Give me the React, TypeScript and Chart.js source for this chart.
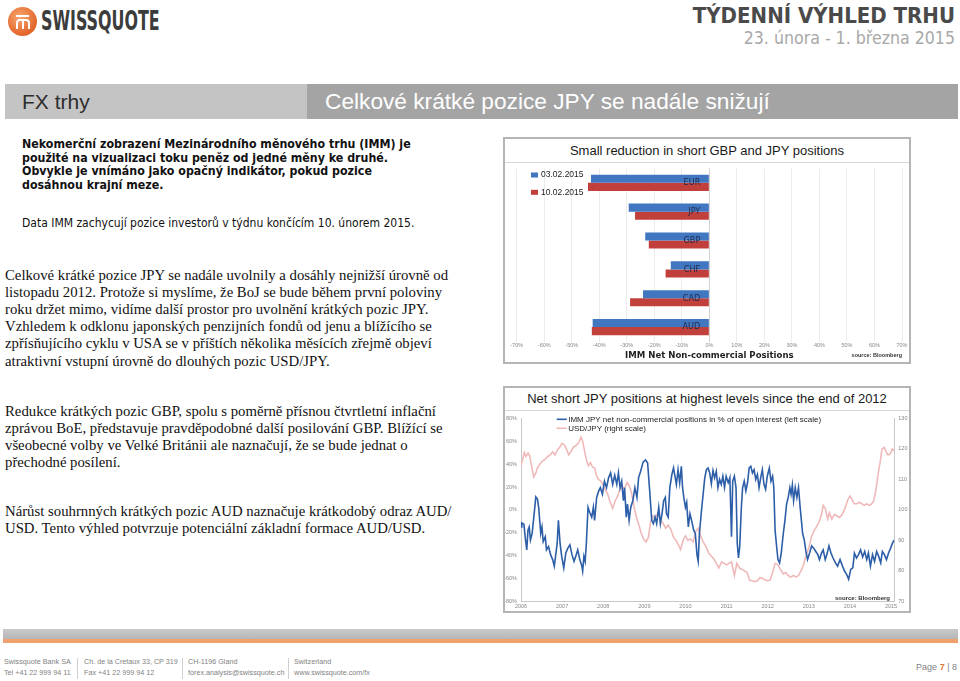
import React, { useEffect, useRef } from "react";
import { Chart, registerables } from "chart.js";

Chart.register(...registerables);

// ---------------- Bar chart data ----------------
const currencies = ["EUR", "JPY", "GBP", "CHF", "CAD", "AUD"];
const seriesDates = ["03.02.2015", "10.02.2015"];
const positionsFeb03 = [-43.0, -29.3, -23.3, -14.0, -24.1, -42.4];
const positionsFeb10 = [-44.1, -27.0, -22.0, -15.9, -28.8, -42.7];
const positionTicks = [-70, -60, -50, -40, -30, -20, -10, 0, 10, 20, 30, 40, 50, 60, 70];

// ---------------- Line chart data ----------------
const yearTicks = [2006, 2007, 2008, 2009, 2010, 2011, 2012, 2013, 2014, 2015];
const leftTicks = [-80, -60, -40, -20, 0, 20, 40, 60, 80];
const rightTicks = [70, 80, 90, 100, 110, 120, 130];
const lineSeriesLabels = [
  "IMM JPY net non-commercial positions in % of open interest (left scale)",
  "USD/JPY (right scale)",
];

const jpyDates = [
  2006.00, 2006.02, 2006.07, 2006.11, 2006.14, 2006.17, 2006.20, 2006.23, 2006.27, 2006.32,
  2006.36, 2006.40, 2006.43, 2006.48, 2006.51, 2006.54, 2006.59, 2006.62, 2006.67, 2006.72,
  2006.77, 2006.81, 2006.85, 2006.88, 2006.91, 2006.95, 2006.99, 2007.04, 2007.09, 2007.14,
  2007.19, 2007.24, 2007.29, 2007.33, 2007.38, 2007.43, 2007.48, 2007.50, 2007.53, 2007.56,
  2007.59, 2007.63, 2007.67, 2007.72, 2007.76, 2007.79, 2007.84, 2007.89, 2007.93, 2007.98,
  2008.03, 2008.08, 2008.13, 2008.18, 2008.23, 2008.28, 2008.33, 2008.37, 2008.41, 2008.45,
  2008.49, 2008.52, 2008.56, 2008.59, 2008.63, 2008.67, 2008.72, 2008.77, 2008.82, 2008.86,
  2008.91, 2008.97, 2009.03, 2009.08, 2009.13, 2009.18, 2009.22, 2009.26, 2009.30, 2009.35,
  2009.39, 2009.43, 2009.47, 2009.51, 2009.54, 2009.58, 2009.62, 2009.67, 2009.71, 2009.74,
  2009.78, 2009.82, 2009.86, 2009.90, 2009.93, 2009.96, 2010.00, 2010.03, 2010.07, 2010.11,
  2010.15, 2010.20, 2010.24, 2010.28, 2010.31, 2010.34, 2010.39, 2010.43, 2010.47, 2010.51,
  2010.55, 2010.59, 2010.63, 2010.67, 2010.71, 2010.75, 2010.79, 2010.83, 2010.87, 2010.91,
  2010.95, 2010.99, 2011.04, 2011.08, 2011.12, 2011.15, 2011.19, 2011.23, 2011.26, 2011.29,
  2011.32, 2011.36, 2011.39, 2011.43, 2011.47, 2011.51, 2011.55, 2011.59, 2011.63, 2011.67,
  2011.71, 2011.75, 2011.79, 2011.83, 2011.87, 2011.91, 2011.95, 2011.99, 2012.04, 2012.08,
  2012.12, 2012.15, 2012.18, 2012.21, 2012.25, 2012.29, 2012.33, 2012.38, 2012.42, 2012.46,
  2012.50, 2012.54, 2012.57, 2012.60, 2012.63, 2012.67, 2012.71, 2012.75, 2012.79, 2012.82,
  2012.85, 2012.89, 2012.93, 2012.97, 2013.02, 2013.07, 2013.12, 2013.17, 2013.22, 2013.26,
  2013.31, 2013.35, 2013.40, 2013.45, 2013.49, 2013.54, 2013.59, 2013.65, 2013.70, 2013.76,
  2013.82, 2013.87, 2013.92, 2013.97, 2014.02, 2014.07, 2014.11, 2014.16, 2014.21, 2014.26,
  2014.31, 2014.36, 2014.41, 2014.45, 2014.50, 2014.55, 2014.60, 2014.65, 2014.70, 2014.75,
  2014.79, 2014.84, 2014.89, 2014.94, 2014.99, 2015.04, 2015.08,
];

const jpyNetPositions = [
  -14.9, -11.4, -12.6, -26.3, -34.9, -17.7, -14.9, -26.3, -20.6, -3.4,
  11.4, 9.4, 2.3, -20.6, -14.9, -27.7, -23.4, -34.9, -32.0, -39.1,
  -43.4, -49.1, -37.7, -29.1, -9.1, -29.1, -40.6, -50.6, -37.7, -33.4,
  -30.6, -39.1, -44.9, -40.6, -34.9, -43.4, -49.1, -53.4, -40.6, -44.9,
  -29.1, 2.3, -2.0, -6.3, 2.3, -9.1, 10.9, 16.6, 19.4, 13.7,
  25.1, 19.4, 28.0, 32.3, 22.3, 30.3, 22.3, 32.3, 19.4, 25.1,
  8.0, 19.4, -6.3, 5.1, -9.1, 2.3, 8.0, 19.4, 10.9, 28.0,
  33.7, 41.7, 43.7, 40.9, 16.6, -9.1, -12.0, -6.3, -12.0, 2.3,
  -12.0, -3.4, 8.0, 10.9, -3.4, -6.3, 19.4, 30.9, 36.6, 30.3,
  22.3, 35.1, 23.7, 38.0, 19.4, 10.9, 2.3, 6.6, -14.9, -3.4,
  -9.1, -17.7, -20.6, -39.1, -44.9, -20.6, -0.6, 13.7, 28.0, 35.1,
  36.6, 32.3, 22.9, 34.3, 28.0, 33.7, 19.4, 26.6, 22.3, 29.4,
  19.4, 29.4, 23.7, 28.0, -23.4, 25.1, 29.4, 19.4, -29.1, -42.0,
  -32.0, 2.3, 19.4, 25.1, 16.6, 23.7, 36.6, 38.0, 32.3, 35.1,
  26.6, 30.9, 19.4, 28.0, 35.1, 22.3, 18.0, 29.4, 36.6, 25.1,
  29.4, 19.4, -17.7, -29.1, -43.4, -46.3, -37.7, -20.6, -9.1, 5.1,
  10.9, 19.4, 13.7, 21.7, 8.0, 19.4, 10.9, 19.4, 2.3, -9.1,
  -20.6, -26.3, -36.3, -43.4, -37.7, -31.4, -33.4, -36.3, -39.1, -43.4,
  -37.7, -34.9, -43.4, -37.7, -31.4, -37.7, -42.0, -46.3, -49.1, -43.4,
  -49.1, -53.4, -56.3, -60.6, -52.0, -50.6, -37.7, -42.0, -39.1, -34.9,
  -41.1, -36.3, -43.4, -37.7, -49.1, -39.1, -44.9, -36.3, -40.6, -46.3,
  -36.3, -39.1, -43.4, -37.7, -33.4, -28.6, -26.3,
];

const usdJpyDates = [
  2006.00, 2006.04, 2006.08, 2006.12, 2006.17, 2006.21, 2006.27, 2006.31, 2006.36, 2006.40,
  2006.46, 2006.52, 2006.58, 2006.65, 2006.71, 2006.77, 2006.83, 2006.88, 2006.94, 2007.00,
  2007.06, 2007.12, 2007.16, 2007.21, 2007.27, 2007.33, 2007.40, 2007.46, 2007.50, 2007.55,
  2007.60, 2007.64, 2007.69, 2007.74, 2007.79, 2007.83, 2007.88, 2007.94, 2008.00, 2008.05,
  2008.10, 2008.17, 2008.23, 2008.29, 2008.35, 2008.40, 2008.46, 2008.52, 2008.58, 2008.63,
  2008.69, 2008.75, 2008.81, 2008.87, 2008.92, 2008.98, 2009.04, 2009.10, 2009.15, 2009.21,
  2009.27, 2009.33, 2009.40, 2009.46, 2009.52, 2009.58, 2009.65, 2009.71, 2009.77, 2009.83,
  2009.88, 2009.94, 2010.00, 2010.06, 2010.12, 2010.19, 2010.25, 2010.31, 2010.37, 2010.43,
  2010.50, 2010.56, 2010.62, 2010.69, 2010.75, 2010.81, 2010.88, 2010.94, 2011.00, 2011.06,
  2011.12, 2011.19, 2011.25, 2011.31, 2011.38, 2011.44, 2011.50, 2011.56, 2011.62, 2011.69,
  2011.75, 2011.81, 2011.88, 2011.94, 2012.00, 2012.06, 2012.12, 2012.18, 2012.25, 2012.31,
  2012.38, 2012.44, 2012.50, 2012.56, 2012.62, 2012.69, 2012.75, 2012.81, 2012.87, 2012.92,
  2013.00, 2013.06, 2013.12, 2013.19, 2013.25, 2013.31, 2013.35, 2013.40, 2013.46, 2013.50,
  2013.56, 2013.62, 2013.69, 2013.75, 2013.81, 2013.88, 2013.94, 2014.00, 2014.05, 2014.10,
  2014.17, 2014.23, 2014.29, 2014.35, 2014.41, 2014.47, 2014.53, 2014.58, 2014.62, 2014.66,
  2014.70, 2014.74, 2014.78, 2014.83, 2014.88, 2014.93, 2014.98, 2015.03, 2015.08,
];

const usdJpyRates = [
  114.5, 116.5, 118.8, 117.5, 118.6, 117.7, 113.5, 110.8, 112.0, 113.8,
  115.0, 116.0, 116.5, 117.5, 118.0, 119.0, 118.0, 119.5, 120.5, 121.8,
  121.2, 119.5, 118.0, 119.0, 120.5, 121.0, 122.0, 123.8, 122.5, 119.0,
  116.0, 114.5, 115.5, 114.0, 113.8, 111.5, 110.0, 109.5, 108.0, 106.5,
  105.5, 102.5, 100.5, 103.0, 104.5, 106.5, 107.5, 107.0, 109.0, 108.0,
  105.5, 101.0, 97.5, 95.0, 92.5, 90.5, 89.5, 91.0, 96.0, 98.0,
  97.5, 99.0, 96.5, 95.5, 94.0, 95.0, 93.5, 91.0, 90.0, 88.5,
  87.0, 90.0, 91.5, 90.0, 90.5, 89.5, 93.0, 94.0, 91.5, 89.5,
  88.0, 86.0, 85.0, 84.0, 82.5, 81.0, 83.0, 82.5, 82.0, 82.5,
  83.0, 78.5, 82.5, 81.0, 80.5, 80.0, 79.5, 77.0, 76.8, 76.5,
  76.8, 77.8, 77.5, 77.0, 76.8, 77.0, 79.5, 82.5, 82.0, 80.5,
  79.0, 79.5, 78.5, 78.0, 78.5, 78.0, 78.5, 80.0, 82.0, 84.5,
  87.5, 91.0, 93.0, 94.5, 96.0, 98.5, 101.5, 100.5, 97.0, 99.0,
  97.0, 98.5, 98.0, 97.5, 98.5, 100.5, 103.0, 104.5, 103.5, 102.0,
  102.0, 102.5, 102.0, 101.5, 102.0, 101.5, 102.0, 103.0, 105.5, 109.0,
  113.0, 116.0, 120.0, 120.5, 119.0, 118.0, 118.3, 120.0, 119.3,
];

// ---------------- Plugin: legend + note drawn inside the canvas ----------------
const boxLegendPlugin = {
  id: "boxLegend",
  afterDraw(chart: any, _args: any, opts: any) {
    if (!opts || !opts.enabled) return;
    const ctx = chart.ctx;
    ctx.save();
    ctx.textBaseline = "middle";
    ctx.textAlign = "left";
    ctx.font = opts.font;
    chart.data.datasets.forEach((ds: any, i: number) => {
      const x = opts.x;
      const y = opts.y + i * opts.gap;
      if (opts.marker === "line") {
        ctx.strokeStyle = ds.borderColor;
        ctx.lineWidth = 1.6;
        ctx.beginPath();
        ctx.moveTo(x, y);
        ctx.lineTo(x + opts.markerW, y);
        ctx.stroke();
      } else {
        ctx.fillStyle = ds.backgroundColor;
        ctx.fillRect(x, y - opts.markerH / 2, opts.markerW, opts.markerH);
      }
      ctx.fillStyle = opts.color;
      ctx.fillText(ds.label, x + opts.markerW + opts.textGap, y);
    });
    if (opts.note) {
      ctx.font = opts.noteFont;
      ctx.textAlign = "right";
      ctx.fillStyle = opts.noteColor;
      ctx.fillText(opts.note, opts.noteX, opts.noteY);
    }
    ctx.restore();
  },
};

const BLUE_BAR = "#4177c0";
const RED_BAR = "#c2403b";
const BLUE_LINE = "#2d5ea8";
const PINK_LINE = "#f0b9b9";

function BarChart() {
  const ref = useRef<HTMLCanvasElement>(null);
  useEffect(() => {
    const chart = new Chart(ref.current as HTMLCanvasElement, {
      type: "bar",
      data: {
        labels: currencies,
        datasets: [
          { label: seriesDates[0], data: positionsFeb03, backgroundColor: BLUE_BAR },
          { label: seriesDates[1], data: positionsFeb10, backgroundColor: RED_BAR },
        ],
      },
      options: {
        indexAxis: "y",
        animation: false,
        responsive: false,
        devicePixelRatio: 1,
        categoryPercentage: 0.56,
        barPercentage: 1,
        layout: { padding: { left: 11.7, right: 7, top: 4.5, bottom: 0 } },
        plugins: {
          legend: { display: false },
          tooltip: { enabled: false },
          boxLegend: {
            enabled: true,
            marker: "box",
            x: 26,
            y: 12,
            gap: 17.3,
            markerW: 7,
            markerH: 5,
            textGap: 3,
            font: "8.5px 'Liberation Sans', Arial, sans-serif",
            color: "#222",
            note: "source: Bloomberg",
            noteFont: "bold 5.5px 'Liberation Sans', Arial, sans-serif",
            noteColor: "#333",
            noteX: 397,
            noteY: 192,
          },
        } as any,
        scales: {
          x: {
            min: -70,
            max: 70,
            afterBuildTicks: (scale: any) => {
              scale.ticks = positionTicks.map((v) => ({ value: v }));
            },
            afterFit: (scale: any) => {
              scale.height = 20.5;
            },
            ticks: {
              autoSkip: false,
              maxRotation: 0,
              padding: 1,
              font: { size: 5.5, family: "'Liberation Sans', Arial, sans-serif" },
              color: "#888",
              callback: (v: any) => v + "%",
            },
            grid: {
              color: (c: any) => (c.tick && c.tick.value === 0 ? "#d2d2d2" : "#ececec"),
              drawTicks: false,
            },
            border: { display: false },
            title: {
              display: true,
              text: "IMM Net Non-commercial Positions",
              color: "#1e1e1e",
              font: { size: 9.5, weight: "bold", family: "'DejaVu Sans Condensed', 'Liberation Sans', sans-serif" },
              padding: { top: 0, bottom: 1 },
            },
          },
          y: {
            position: { x: -3.3 } as any,
            afterFit: (scale: any) => {
              scale.width = 0;
            },
            grid: { display: false },
            border: { display: false },
            ticks: {
              z: 1,
              padding: 0,
              color: "#1f2a4a",
              font: { size: 9, family: "'DejaVu Sans Condensed', 'Liberation Sans', sans-serif" },
            },
          },
        },
      } as any,
      plugins: [boxLegendPlugin as any],
    });
    return () => chart.destroy();
  }, []);
  return <canvas ref={ref} width={404} height={199} style={{ display: "block", width: 404, height: 199 }} />;
}

function LineChart() {
  const ref = useRef<HTMLCanvasElement>(null);
  useEffect(() => {
    const tickFont = { size: 5.5, family: "'Liberation Sans', Arial, sans-serif" };
    const chart = new Chart(ref.current as HTMLCanvasElement, {
      type: "line",
      data: {
        datasets: [
          {
            label: lineSeriesLabels[0],
            data: jpyDates.map((d, i) => ({ x: d, y: jpyNetPositions[i] })),
            borderColor: BLUE_LINE,
            borderWidth: 1.6,
            pointRadius: 0,
            tension: 0,
            yAxisID: "y",
          },
          {
            label: lineSeriesLabels[1],
            data: usdJpyDates.map((d, i) => ({ x: d, y: usdJpyRates[i] })),
            borderColor: PINK_LINE,
            borderWidth: 1.6,
            pointRadius: 0,
            tension: 0,
            yAxisID: "y1",
          },
        ],
      },
      options: {
        animation: false,
        responsive: false,
        devicePixelRatio: 1,
        layout: { padding: { left: 0, right: 0, top: 3.3, bottom: 0 } },
        plugins: {
          legend: { display: false },
          tooltip: { enabled: false },
          boxLegend: {
            enabled: true,
            marker: "line",
            x: 51.7,
            y: 8.3,
            gap: 9,
            markerW: 10,
            markerH: 0,
            textGap: 1.5,
            font: "8px 'Liberation Sans', Arial, sans-serif",
            color: "#222",
            note: "source: Bloomberg",
            noteFont: "bold 6px 'Liberation Sans', Arial, sans-serif",
            noteColor: "#333",
            noteX: 385,
            noteY: 187,
          },
        } as any,
        scales: {
          x: {
            type: "linear",
            min: 2006,
            max: 2015.08,
            afterBuildTicks: (scale: any) => {
              scale.ticks = yearTicks.map((v) => ({ value: v }));
            },
            afterFit: (scale: any) => {
              scale.height = 9.5;
            },
            ticks: {
              autoSkip: false,
              maxRotation: 0,
              padding: 1.6,
              font: tickFont,
              color: "#888",
              callback: (v: any) => String(v),
            },
            grid: { display: false, drawTicks: false },
            border: { display: true, color: "#c8c8c8" },
          },
          y: {
            position: "left",
            min: -80,
            max: 80,
            afterBuildTicks: (scale: any) => {
              scale.ticks = leftTicks.map((v) => ({ value: v }));
            },
            afterFit: (scale: any) => {
              scale.width = 16;
            },
            ticks: { padding: 4, font: tickFont, color: "#888", callback: (v: any) => v + "%" },
            grid: { display: false, drawTicks: false },
            border: { display: true, color: "#c8c8c8" },
          },
          y1: {
            position: "right",
            min: 70,
            max: 130,
            afterBuildTicks: (scale: any) => {
              scale.ticks = rightTicks.map((v) => ({ value: v }));
            },
            afterFit: (scale: any) => {
              scale.width = 14.7;
            },
            ticks: { padding: 4, font: tickFont, color: "#888" },
            grid: { display: false, drawTicks: false },
            border: { display: true, color: "#c8c8c8" },
          },
        },
      } as any,
      plugins: [boxLegendPlugin as any],
    });
    return () => chart.destroy();
  }, []);
  return <canvas ref={ref} width={404} height={200} style={{ display: "block", width: 404, height: 200 }} />;
}

const SANS = "'Liberation Sans', Arial, sans-serif";
const NARROW = "'Liberation Sans Narrow', 'DejaVu Sans Condensed', 'Liberation Sans', sans-serif";
const SERIF = "'Liberation Serif', 'Times New Roman', serif";
const TAHOMA = "'DejaVu Sans Condensed', 'DejaVu Sans', sans-serif";

const abs = (left: number, top: number, extra: React.CSSProperties = {}): React.CSSProperties => ({
  position: "absolute",
  left,
  top,
  ...extra,
});

export default function App() {
  const serif: React.CSSProperties = {
    fontFamily: SERIF,
    fontSize: 14.75,
    lineHeight: "17.2px",
    color: "#111",
    whiteSpace: "nowrap",
  };
  const boxStyle = (top: number): React.CSSProperties => ({
    position: "absolute",
    left: 503,
    top,
    width: 404,
    height: 223,
    border: "2px solid #b5b5b5",
    background: "#fff",
  });
  const chartTitle: React.CSSProperties = {
    height: 23,
    borderBottom: "1px solid #d6d6d6",
    fontFamily: SANS,
    fontSize: 13,
    lineHeight: "23px",
    textAlign: "center",
    color: "#1a1a1a",
    whiteSpace: "nowrap",
  };
  const footer: React.CSSProperties = {
    fontFamily: SANS,
    fontSize: 7.2,
    lineHeight: "11.4px",
    color: "#828282",
    whiteSpace: "nowrap",
  };
  return (
    <div
      style={{
        position: "absolute",
        left: 0,
        top: 0,
        width: 960,
        height: 681,
        overflow: "hidden",
        background: "#fff",
      }}
    >
      {/* Logo */}
      <div
        style={abs(8, 7, {
          width: 29,
          height: 29,
          borderRadius: "50%",
          background: "radial-gradient(circle at 40% 35%, #f6a66e, #e2652a 70%, #c9521e)",
        })}
      >
        <div style={abs(8, 8, { width: 13, height: 2, background: "#fff" })} />
        <div
          style={abs(7.5, 12, {
            width: 10,
            height: 8,
            border: "2px solid #fff",
            borderBottom: "none",
            borderRadius: "4px 4px 0 0",
          })}
        />
        <div style={abs(13.5, 13, { width: 2, height: 9, background: "#fff" })} />
      </div>
      <div
        style={abs(41, 6, {
          fontFamily: NARROW,
          fontWeight: "bold",
          fontSize: 26,
          lineHeight: "30px",
          color: "#3c3c3c",
          whiteSpace: "nowrap",
          transform: "scaleX(0.68)",
          transformOrigin: "0 0",
        })}
      >
        SWISSQUOTE
      </div>
      <div
        style={{
          position: "absolute",
          right: 5,
          top: 3,
          fontFamily: NARROW,
          fontWeight: "bold",
          fontSize: 22,
          lineHeight: "26px",
          color: "#4a4a4a",
          whiteSpace: "nowrap",
        }}
      >
        TÝDENNÍ VÝHLED TRHU
      </div>
      <div
        style={{
          position: "absolute",
          right: 5,
          top: 28,
          fontFamily: NARROW,
          fontSize: 17.6,
          lineHeight: "20px",
          color: "#a8a8a8",
          whiteSpace: "nowrap",
        }}
      >
        23. února - 1. března 2015
      </div>

      {/* Section bar */}
      <div style={abs(5, 84, { width: 302, height: 35, background: "#c4c4c4" })} />
      <div style={abs(307, 84, { width: 651, height: 35, background: "#a4a4a4" })} />
      <div style={abs(22, 84, { fontFamily: SANS, fontSize: 21, lineHeight: "35px", color: "#2e2e2e" })}>
        FX trhy
      </div>
      <div
        style={abs(325, 84, {
          fontFamily: SANS,
          fontSize: 22.7,
          lineHeight: "35px",
          color: "#fff",
          whiteSpace: "nowrap",
        })}
      >
        Celkové krátké pozice JPY se nadále snižují
      </div>

      {/* Left column */}
      <div
        style={abs(22, 138, {
          fontFamily: TAHOMA,
          fontWeight: "bold",
          fontSize: 12.3,
          lineHeight: "13.6px",
          color: "#111",
          whiteSpace: "nowrap",
        })}
      >
        Nekomerční zobrazení Mezinárodního měnového trhu (IMM) je
        <br />
        použité na vizualizaci toku peněz od jedné měny ke druhé.
        <br />
        Obvykle je vnímáno jako opačný indikátor, pokud pozice
        <br />
        dosáhnou krajní meze.
      </div>
      <div
        style={abs(22, 216, {
          fontFamily: TAHOMA,
          fontSize: 12,
          lineHeight: "14px",
          color: "#111",
          whiteSpace: "nowrap",
        })}
      >
        Data IMM zachycují pozice investorů v týdnu končícím 10. únorem 2015.
      </div>
      <div style={abs(5, 266.5, serif)}>
        Celkové krátké pozice JPY se nadále uvolnily a dosáhly nejnižší úrovně od
        <br />
        listopadu 2012. Protože si myslíme, že BoJ se bude během první poloviny
        <br />
        roku držet mimo, vidíme další prostor pro uvolnění krátkých pozic JPY.
        <br />
        Vzhledem k odklonu japonských penzijních fondů od jenu a blížícího se
        <br />
        zpřísňujícího cyklu v USA se v příštích několika měsících zřejmě objeví
        <br />
        atraktivní vstupní úrovně do dlouhých pozic USD/JPY.
      </div>
      <div style={abs(5, 402.5, serif)}>
        Redukce krátkých pozic GBP, spolu s poměrně přísnou čtvrtletní inflační
        <br />
        zprávou BoE, představuje pravděpodobné další posilování GBP. Blížící se
        <br />
        všeobecné volby ve Velké Británii ale naznačují, že se bude jednat o
        <br />
        přechodné posílení.
      </div>
      <div style={abs(5, 503.2, serif)}>
        Nárůst souhrnných krátkých pozic AUD naznačuje krátkodobý odraz AUD/
        <br />
        USD. Tento výhled potvrzuje potenciální základní formace AUD/USD.
      </div>

      {/* Charts */}
      <div style={boxStyle(137)}>
        <div style={chartTitle}>Small reduction in short GBP and JPY positions</div>
        <BarChart />
      </div>
      <div style={boxStyle(386)}>
        <div style={{ ...chartTitle, height: 22, lineHeight: "22px" }}>
          Net short JPY positions at highest levels since the end of 2012
        </div>
        <LineChart />
      </div>

      {/* Footer */}
      <div
        style={abs(3, 629, {
          width: 955,
          height: 10,
          background: "linear-gradient(#c9c9c9, #b6b6b6)",
        })}
      />
      <div style={abs(3, 639, { width: 955, height: 4, background: "#f0a06c" })} />
      <div style={abs(77, 658, { width: 1, height: 21, background: "#d0d0d0" })} />
      <div style={abs(182, 658, { width: 1, height: 21, background: "#d0d0d0" })} />
      <div style={abs(288, 658, { width: 1, height: 21, background: "#d0d0d0" })} />
      <div style={abs(4, 655.6, footer)}>
        Swissquote Bank SA
        <br />
        Tel +41 22 999 94 11
      </div>
      <div style={abs(84, 655.6, footer)}>
        Ch. de la Cretaux 33, CP 319
        <br />
        Fax +41 22 999 94 12
      </div>
      <div style={abs(188, 655.6, footer)}>
        CH-1196 Gland
        <br />
        forex.analysis@swissquote.ch
      </div>
      <div style={abs(294, 655.6, footer)}>
        Switzerland
        <br />
        www.swissquote.com/fx
      </div>
      <div style={{ ...footer, position: "absolute", right: 3, top: 662, fontSize: 9 }}>
        Page <span style={{ color: "#e07a3a", fontWeight: "bold" }}>7</span> | 8
      </div>
    </div>
  );
}
